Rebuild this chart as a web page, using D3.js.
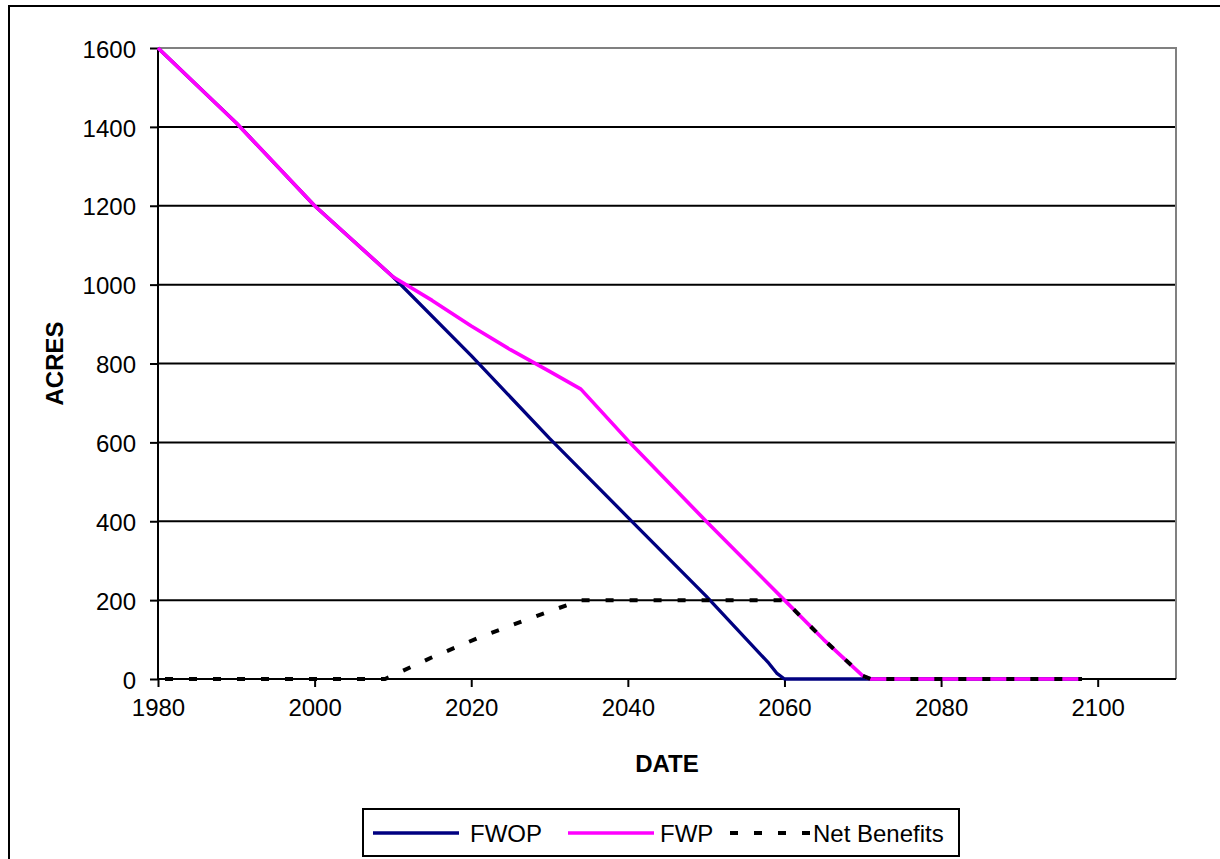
<!DOCTYPE html>
<html>
<head>
<meta charset="utf-8">
<script src="https://cdn.jsdelivr.net/npm/d3@7"></script>
<style>
  body { margin: 0; background: #fff; }
  svg { display: block; font-family: "Liberation Sans", Arial, sans-serif; }
</style>
</head>
<body>
<div id="viz"></div>
<script>
// values
const fwopYears = [1980, 1985, 1990, 1995, 2000, 2005, 2010, 2020, 2030, 2040, 2050, 2058, 2059, 2060, 2098];
const fwopAcres = [1600, 1505, 1410, 1305, 1200, 1110, 1020, 820, 610, 410, 210, 40, 15, 0, 0];

const fwpYears = [1980, 1985, 1990, 1995, 2000, 2005, 2010, 2015, 2020, 2025, 2030, 2034, 2040, 2050, 2060, 2065, 2070, 2071, 2098];
const fwpAcres = [1600, 1505, 1410, 1305, 1200, 1110, 1020, 960, 895, 835, 780, 735, 605, 400, 200, 100, 8, 0, 0];

const netYears = [1980, 2009, 2015, 2021, 2027, 2034, 2060, 2065, 2070, 2071, 2098];
const netAcres = [0, 0, 55, 105, 150, 200, 200, 100, 8, 0, 0];

const xTicks = [1980, 2000, 2020, 2040, 2060, 2080, 2100];
const yTicks = [0, 200, 400, 600, 800, 1000, 1200, 1400, 1600];

const W = 1220, H = 859;
const plot = { left: 158, right: 1176, top: 48, bottom: 679 };

const svg = d3.select("#viz").append("svg")
    .attr("width", W)
    .attr("height", H);

// outer chart border (runs off the right and bottom of the picture)
svg.append("rect")
    .attr("x", 9).attr("y", 6)
    .attr("width", 1240).attr("height", 880)
    .attr("fill", "#fff")
    .attr("stroke", "#000")
    .attr("stroke-width", 2);

const x = d3.scaleLinear().domain([1980, 2110]).range([plot.left, plot.right]);
const y = d3.scaleLinear().domain([0, 1600]).range([plot.bottom, plot.top]);

// grid lines
svg.append("g")
    .selectAll("line")
    .data(yTicks.filter(v => v > 0 && v < 1600))
    .enter().append("line")
    .attr("x1", plot.left).attr("x2", plot.right)
    .attr("y1", d => y(d)).attr("y2", d => y(d))
    .attr("stroke", "#000")
    .attr("stroke-width", 2);

// gray plot frame on top and right
svg.append("path")
    .attr("d", `M${plot.left},${y(1600)}H${plot.right}V${plot.bottom}`)
    .attr("fill", "none")
    .attr("stroke", "#808080")
    .attr("stroke-width", 2);

// axes
const yAxis = svg.append("g")
    .attr("transform", `translate(${plot.left},0)`)
    .call(d3.axisLeft(y).tickValues(yTicks).tickFormat(d3.format("d")).tickSize(8).tickPadding(14));
const xAxis = svg.append("g")
    .attr("transform", `translate(0,${plot.bottom})`)
    .call(d3.axisBottom(x).tickValues(xTicks).tickFormat(d3.format("d")).tickSize(8).tickPadding(12));

[yAxis, xAxis].forEach(g => {
    g.select(".domain").remove();
    g.selectAll("line").attr("stroke", "#000").attr("stroke-width", 2);
    g.selectAll("text")
        .attr("fill", "#000")
        .style("font-size", "24px")
        .style("font-family", "'Liberation Sans', Arial, sans-serif");
});
yAxis.selectAll("text").attr("dy", "0.38em");
yAxis.append("line")
    .attr("y1", plot.top).attr("y2", plot.bottom)
    .attr("stroke", "#000").attr("stroke-width", 2);
xAxis.append("line")
    .attr("x1", plot.left).attr("x2", plot.right)
    .attr("stroke", "#000").attr("stroke-width", 2);

// axis titles
svg.append("text")
    .attr("x", (plot.left + plot.right) / 2)
    .attr("y", 772)
    .attr("text-anchor", "middle")
    .style("font-size", "24px")
    .style("font-weight", "bold")
    .text("DATE");
svg.append("text")
    .attr("transform", `translate(63, ${(plot.top + plot.bottom) / 2}) rotate(-90)`)
    .attr("text-anchor", "middle")
    .style("font-size", "24px")
    .style("font-weight", "bold")
    .text("ACRES");

// series
const series = [
    { name: "FWOP", years: fwopYears, values: fwopAcres, color: "#000080", width: 3.3, dash: null },
    { name: "FWP", years: fwpYears, values: fwpAcres, color: "#ff00ff", width: 3.6, dash: null },
    { name: "Net Benefits", years: netYears, values: netAcres, color: "#000", width: 4, dash: "8,16" }
];

const line = d3.line()
    .x(d => x(d[0]))
    .y(d => y(d[1]));

series.forEach(s => {
    svg.append("path")
        .datum(s.years.map((yr, i) => [yr, s.values[i]]))
        .attr("d", line)
        .attr("fill", "none")
        .attr("stroke", s.color)
        .attr("stroke-width", s.width)
        .attr("stroke-linejoin", "round")
        .attr("stroke-dasharray", s.dash)
        .attr("stroke-dashoffset", s.dash ? 17 : null);
});

// legend
const legend = svg.append("g");
legend.append("rect")
    .attr("x", 363).attr("y", 809)
    .attr("width", 596).attr("height", 47)
    .attr("fill", "#fff")
    .attr("stroke", "#000")
    .attr("stroke-width", 2);

const legendLineX = [373, 568, 730];
const legendTextX = [470, 660, 813];
series.forEach((s, i) => {
    legend.append("line")
        .attr("x1", legendLineX[i]).attr("x2", legendLineX[i] + 86)
        .attr("y1", 833).attr("y2", 833)
        .attr("stroke", s.color)
        .attr("stroke-width", s.width)
        .attr("stroke-dasharray", s.dash);
    legend.append("text")
        .attr("x", legendTextX[i])
        .attr("y", 842)
        .style("font-size", "24px")
        .text(s.name);
});
</script>
</body>
</html>
